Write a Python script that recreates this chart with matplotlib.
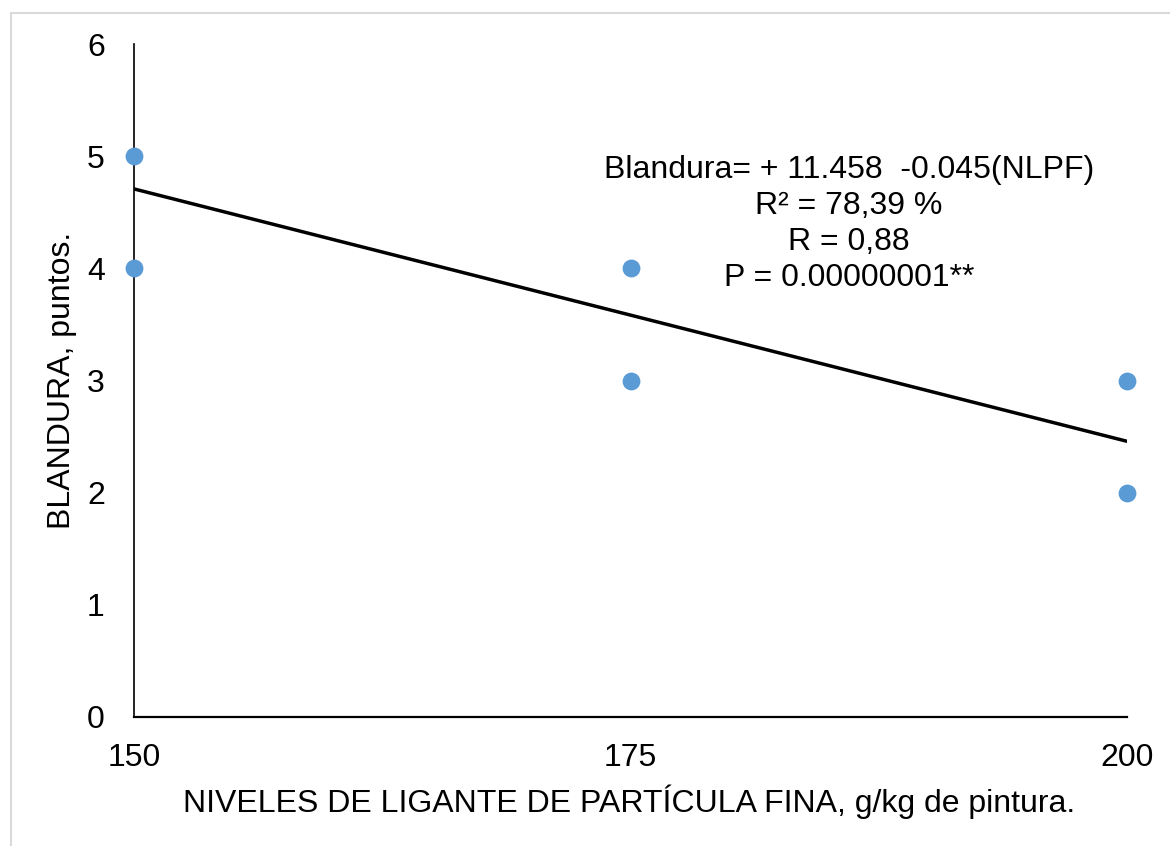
"""Blandura vs niveles de ligante de particula fina"""
import matplotlib
matplotlib.use('Agg')
import matplotlib.pyplot as plt
from matplotlib.patches import Rectangle

plt.rcParams['font.family'] = ['Liberation Sans', 'DejaVu Sans']

# datos observados
niveles = [150, 150, 175, 175, 200, 200]
blandura = [5, 4, 4, 3, 3, 2]

# recta de regresion
intercepto = 11.458
pendiente = -0.045
x_linea = [150, 200]

x_ticks = [150, 175, 200]
y_ticks = [0, 1, 2, 3, 4, 5, 6]

ecuacion = ['Blandura= + 11.458  -0.045(NLPF)',
            'R² = 78,39 %',
            'R = 0,88',
            'P = 0.00000001**']

W, H = 1170, 846
fig = plt.figure(figsize=(W / 100, H / 100), dpi=100)
ax = fig.add_axes([134 / W, 1 - 717 / H, (1127 - 134) / W, (717 - 44) / H])

# marco gris de la figura
fig.patches.append(Rectangle((11 / W, -0.1), 1.2, 1 - 12.5 / H + 0.1,
                             transform=fig.transFigure, fill=False,
                             edgecolor='#d9d9d9', linewidth=1.5))

y_linea = [intercepto + pendiente * x for x in x_linea]
ax.plot(x_linea, y_linea, color='black', linewidth=2.5, zorder=2)
ax.scatter(niveles, blandura, s=140, color='#5b9bd5', zorder=3, clip_on=False)

ax.set_xlim(150, 200)
ax.set_ylim(0, 6)
ax.set_xticks(x_ticks)
ax.set_yticks(y_ticks)
ax.tick_params(axis='both', length=0, labelsize=23)
ax.tick_params(axis='x', pad=19)
ax.tick_params(axis='y', pad=21)

for side in ['top', 'right']:
    ax.spines[side].set_visible(False)
ax.spines['left'].set_linewidth(1.2)
ax.spines['bottom'].set_linewidth(1.6)

fig.text(629 / W, 1 - 802 / H, 'NIVELES DE LIGANTE DE PARTÍCULA FINA, g/kg de pintura.',
         fontsize=23, ha='center', va='center')
fig.text(62 / W, 1 - 380 / H, 'BLANDURA, puntos.', rotation=90, fontsize=23,
         ha='center', va='center')

fig.text(849 / W, 1 - 224 / H, '\n'.join(ecuacion), fontsize=23, ha='center',
         va='center', linespacing=1.25)

plt.savefig('out.png', dpi=100)
plt.close()
